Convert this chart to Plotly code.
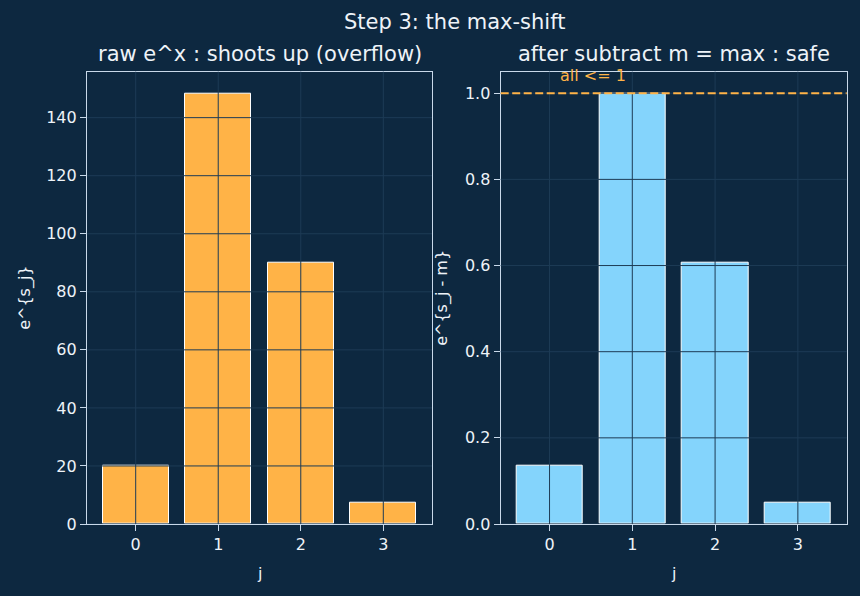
import numpy as np
import plotly.graph_objects as go

# ---- data ----
j = [0, 1, 2, 3]
raw_vals = [20.09, 148.41, 90.02, 7.39]
shifted_vals = [0.1353, 1.0, 0.6065, 0.0498]
left_yticks = [0, 20, 40, 60, 80, 100, 120, 140]
right_yticks = [0.0, 0.2, 0.4, 0.6, 0.8, 1.0]
ref_level = 1.0

BG = "#0d2840"
ORANGE = "#ffb347"
BLUE = "#84d4fc"
SPINE = "#c9d9ea"
TXT = "#eef3f8"
GRID = "#1d3b55"
W, H = 860, 596
HE = 586  # effective paper height observed in the renderer

def py(px):
    return 1 - px / HE

fig = go.Figure()
fig.add_trace(go.Bar(x=j, y=raw_vals, width=0.8, marker=dict(color=ORANGE, line=dict(color="white", width=1)),
                     xaxis="x", yaxis="y", showlegend=False))
fig.add_trace(go.Bar(x=j, y=shifted_vals, width=0.8, marker=dict(color=BLUE, line=dict(color="white", width=1)),
                     xaxis="x2", yaxis="y2", showlegend=False))

xl = [87 / W, 432 / W]
xr = [500.7 / W, 846.7 / W]
yd = [py(524), py(71.7)]

ax_common = dict(showline=True, linecolor=SPINE, linewidth=1.2, mirror=True, ticks="outside",
                 ticklen=6, tickwidth=1.2, tickcolor=SPINE, showgrid=False, zeroline=False,
                 tickfont=dict(family="DejaVu Sans", size=16, color=TXT))

xrng = [-0.59, 3.59]
yl_rng = [0, max(raw_vals) * 1.05]
yr_rng = [0, max(shifted_vals) * 1.05]

fig.update_layout(
    width=W, height=H, margin=dict(l=0, r=0, t=0, b=0),
    paper_bgcolor=BG, plot_bgcolor=BG, bargap=0,
    xaxis=dict(domain=xl, anchor="y", range=xrng, tickvals=j, **ax_common),
    yaxis=dict(domain=yd, anchor="x", range=yl_rng, tickvals=left_yticks, **ax_common),
    xaxis2=dict(domain=xr, anchor="y2", range=xrng, tickvals=j, **ax_common),
    yaxis2=dict(domain=yd, anchor="x2", range=yr_rng, tickvals=right_yticks,
                tickformat=".1f", **ax_common),
)

shapes = []
# gridlines drawn above bars (as in the reference)
for xa, ya, yt in [("x", "y", left_yticks), ("x2", "y2", right_yticks)]:
    for t in j:
        shapes.append(dict(type="line", layer="above", xref=xa, yref=ya + " domain", x0=t, x1=t, y0=0, y1=1,
                           line=dict(color=GRID, width=1)))
    for t in yt:
        shapes.append(dict(type="line", layer="above", xref=xa + " domain", yref=ya, x0=0, x1=1, y0=t, y1=t,
                           line=dict(color=GRID, width=1)))
shapes.append(dict(type="line", layer="above", xref="x2 domain", yref="y2", x0=0, x1=1, y0=ref_level, y1=ref_level,
                   line=dict(color=ORANGE, width=2, dash="8px,3.5px")))
fig.update_layout(shapes=shapes)

def ann(text, x, y, size, color=TXT, xanchor="center", yanchor="middle", angle=0, xref="paper", yref="paper", yshift=0):
    fig.add_annotation(text=text, x=x, y=y, xref=xref, yref=yref, showarrow=False, textangle=angle,
                       xanchor=xanchor, yanchor=yanchor, yshift=yshift,
                       font=dict(family="DejaVu Sans", size=size, color=color))

ann("Step 3: the max-shift", 454.5 / W, py(22), 21)
ann("raw e^x : shoots up (overflow)", (xl[0] + xl[1]) / 2, py(54), 21)
ann("after subtract m = max : safe", (xr[0] + xr[1]) / 2, py(54), 21)
ann("j", (xl[0] + xl[1]) / 2, py(573), 16)
ann("j", (xr[0] + xr[1]) / 2, py(573), 16)
ann("e^{s_j}", 25 / W, (yd[0] + yd[1]) / 2, 16, angle=-90)
ann("e^{s_j - m}", 442 / W, (yd[0] + yd[1]) / 2, 16, angle=-90)
ann("all <= 1", 0.1, 1.025, 16, color=ORANGE, xanchor="left", yanchor="bottom", xref="x2", yref="y2", yshift=-5)

fig.write_html("out.html")
